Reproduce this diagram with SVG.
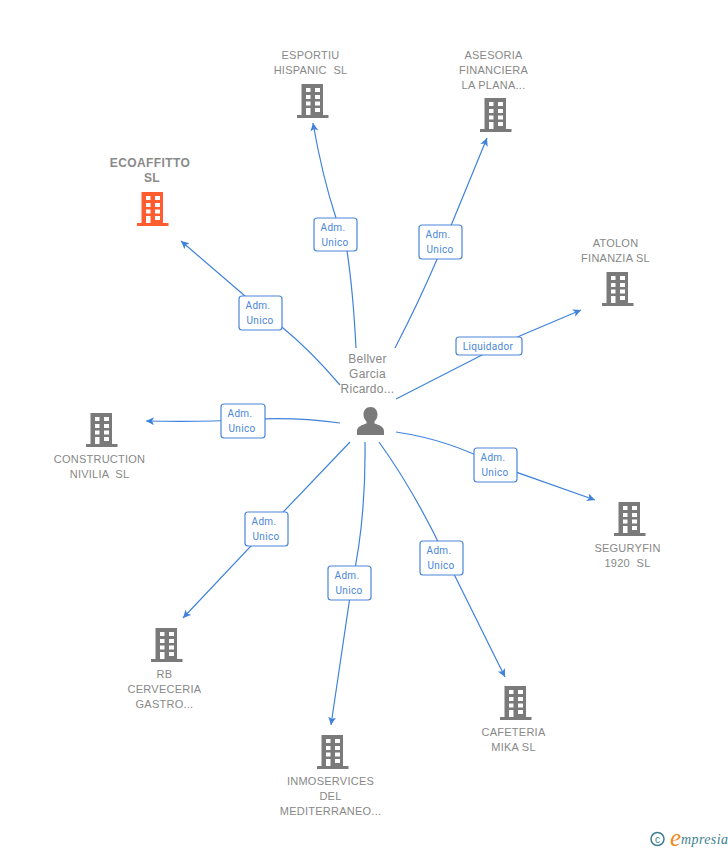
<svg xmlns="http://www.w3.org/2000/svg" width="728" height="850" viewBox="0 0 728 850">
<style>
.t{font-family:"Liberation Sans",Arial,sans-serif;font-size:11px;fill:#888;text-anchor:middle;letter-spacing:.25px}
.p{font-family:"Liberation Sans",Arial,sans-serif;font-size:12px;fill:#888;text-anchor:middle;letter-spacing:.25px}
.e{font-family:"Liberation Sans",Arial,sans-serif;font-size:12px;font-weight:bold;fill:#8a8a8a;text-anchor:middle;letter-spacing:.4px}
.l{font-family:"Roboto","Liberation Sans",sans-serif;font-size:10px;fill:#4a86d8;text-anchor:middle;letter-spacing:.3px}
.b{fill:#fff;stroke:#4a86d8;stroke-width:1.2}
.c{fill:none;stroke:#3f82dc;stroke-width:1.2;marker-end:url(#a)}
</style>
<defs>
<marker id="a" markerWidth="10" markerHeight="10" refX="8" refY="4" orient="auto" markerUnits="userSpaceOnUse"><path d="M0 0L8 4L0 8L2 4Z" fill="#3f82dc"/></marker>
<symbol id="bld" width="32" height="35" viewBox="0 0 32 35">
<path fill-rule="evenodd" d="M4.500 0H26V31H31.500V34H0V31H4.500ZM9 4V8H13.500V4ZM18 4V8H23V4ZM9 11V15H13.500V11ZM18 11V15H23V11ZM9 17.500V21.500H13.500V17.500ZM18 17.500V21.500H23V17.500ZM9 24V31H13.500V24ZM18 24V28H23V24Z"/>
</symbol>
</defs>
<g id="connectors">
<path class="c" d="M356 348Q353 290 347 251Q343 235 336 218Q322 175 313 123"/>
<path class="c" d="M395 348Q420 300 441 250L487 138"/>
<path class="c" d="M396 399L482 355Q500 345 522 335L581 310"/>
<path class="c" d="M396 432Q450 440 496 465L595 500"/>
<path class="c" d="M379 442Q415 492 446 558L505 677"/>
<path class="c" d="M365 442Q366 520 352 583L331 725"/>
<path class="c" d="M350 442L267 529L183 618"/>
<path class="c" d="M340 423Q290 416 243 420Q200 422 146 421"/>
<path class="c" d="M340 385Q310 350 283 328Q265 310 245 296L181 241"/>
</g>
<g id="n-eco" fill="#ff5c30"><use href="#bld" x="137" y="192"/><text class="e" x="150" y="167">ECOAFFITTO</text><text class="e" x="152" y="182">SL</text></g>
<g id="n-esportiu" fill="#7a7a7a"><use href="#bld" x="297" y="84"/><text class="t" x="310.500" y="59">ESPORTIU</text><text class="t" x="310.500" y="74" xml:space="preserve">HISPANIC  SL</text></g>
<g id="n-asesoria" fill="#7a7a7a"><use href="#bld" x="480" y="98"/><text class="t" x="493.500" y="59">ASESORIA</text><text class="t" x="493.500" y="74">FINANCIERA</text><text class="t" x="493.500" y="89">LA PLANA...</text></g>
<g id="n-atolon" fill="#7a7a7a"><use href="#bld" x="602" y="272"/><text class="t" x="615.500" y="247">ATOLON</text><text class="t" x="615.500" y="262">FINANZIA SL</text></g>
<g id="n-seguryfin" fill="#7a7a7a"><use href="#bld" x="614" y="502"/><text class="t" x="627.500" y="552">SEGURYFIN</text><text class="t" x="627.500" y="567" xml:space="preserve">1920  SL</text></g>
<g id="n-cafeteria" fill="#7a7a7a"><use href="#bld" x="500" y="686"/><text class="t" x="513.500" y="736">CAFETERIA</text><text class="t" x="513.500" y="751">MIKA SL</text></g>
<g id="n-inmo" fill="#7a7a7a"><use href="#bld" x="317" y="735"/><text class="t" x="330.500" y="785">INMOSERVICES</text><text class="t" x="330.500" y="800">DEL</text><text class="t" x="330.500" y="815">MEDITERRANEO...</text></g>
<g id="n-rb" fill="#7a7a7a"><use href="#bld" x="151" y="628"/><text class="t" x="164.500" y="678">RB</text><text class="t" x="164.500" y="693">CERVECERIA</text><text class="t" x="164.500" y="708">GASTRO...</text></g>
<g id="n-construction" fill="#7a7a7a"><use href="#bld" x="86" y="413"/><text class="t" x="99.500" y="463">CONSTRUCTION</text><text class="t" x="99.500" y="478" xml:space="preserve">NIVILIA  SL</text></g>
<g id="n-person"><text class="p" x="367.500" y="363">Bellver</text><text class="p" x="367.500" y="378">Garcia</text><text class="p" x="367.500" y="393">Ricardo...</text>
<path fill="#7a7a7a" d="M370.500 407C366 407 363.500 410.500 363.500 414.500C363.500 418 365 420 366.500 421.500V423.500C362 425 357 426.500 357 431V435H384V431C384 426.500 379 425 374.500 423.500V421.500C376 420 377.500 418 377.500 414.500C377.500 410.500 375 407 370.500 407Z"/></g>
<g id="labels">
<g><rect class="b" x="314" y="218" width="43" height="33" rx="3"/><text class="l" x="333" y="231">Adm.</text><text class="l" x="335" y="246">Unico</text></g>
<g><rect class="b" x="419" y="225" width="43" height="34" rx="3"/><text class="l" x="438" y="238">Adm.</text><text class="l" x="440" y="253">Unico</text></g>
<g><rect class="b" x="239" y="296" width="43" height="34" rx="3"/><text class="l" x="258" y="309">Adm.</text><text class="l" x="260" y="324">Unico</text></g>
<g><rect class="b" x="456" y="337" width="66" height="18" rx="3"/><text class="l" x="488" y="350">Liquidador</text></g>
<g><rect class="b" x="221" y="404" width="44" height="34" rx="3"/><text class="l" x="240" y="417">Adm.</text><text class="l" x="242" y="432">Unico</text></g>
<g><rect class="b" x="474" y="448" width="43" height="34" rx="3"/><text class="l" x="493" y="461">Adm.</text><text class="l" x="495" y="476">Unico</text></g>
<g><rect class="b" x="245" y="512" width="43" height="34" rx="3"/><text class="l" x="264" y="525">Adm.</text><text class="l" x="266" y="540">Unico</text></g>
<g><rect class="b" x="420" y="541" width="43" height="34" rx="3"/><text class="l" x="439" y="554">Adm.</text><text class="l" x="441" y="569">Unico</text></g>
<g><rect class="b" x="328" y="566" width="43" height="34" rx="3"/><text class="l" x="347" y="579">Adm.</text><text class="l" x="349" y="594">Unico</text></g>
</g>
<g id="credit">
<circle cx="657.500" cy="839" r="6.500" fill="none" stroke="#3f7f8f" stroke-width="1.500"/>
<text x="657.500" y="842.500" font-family="Liberation Sans,sans-serif" font-size="10" fill="#3f7f8f" text-anchor="middle">c</text>
<text x="670" y="846" font-family="Liberation Serif,serif" font-size="25" font-style="italic" fill="#f08a1d">e</text>
<text x="681" y="844" font-family="Liberation Serif,serif" font-size="14" font-style="italic" fill="#3f7f8f" letter-spacing=".4">mpresia</text>
</g>
</svg>
